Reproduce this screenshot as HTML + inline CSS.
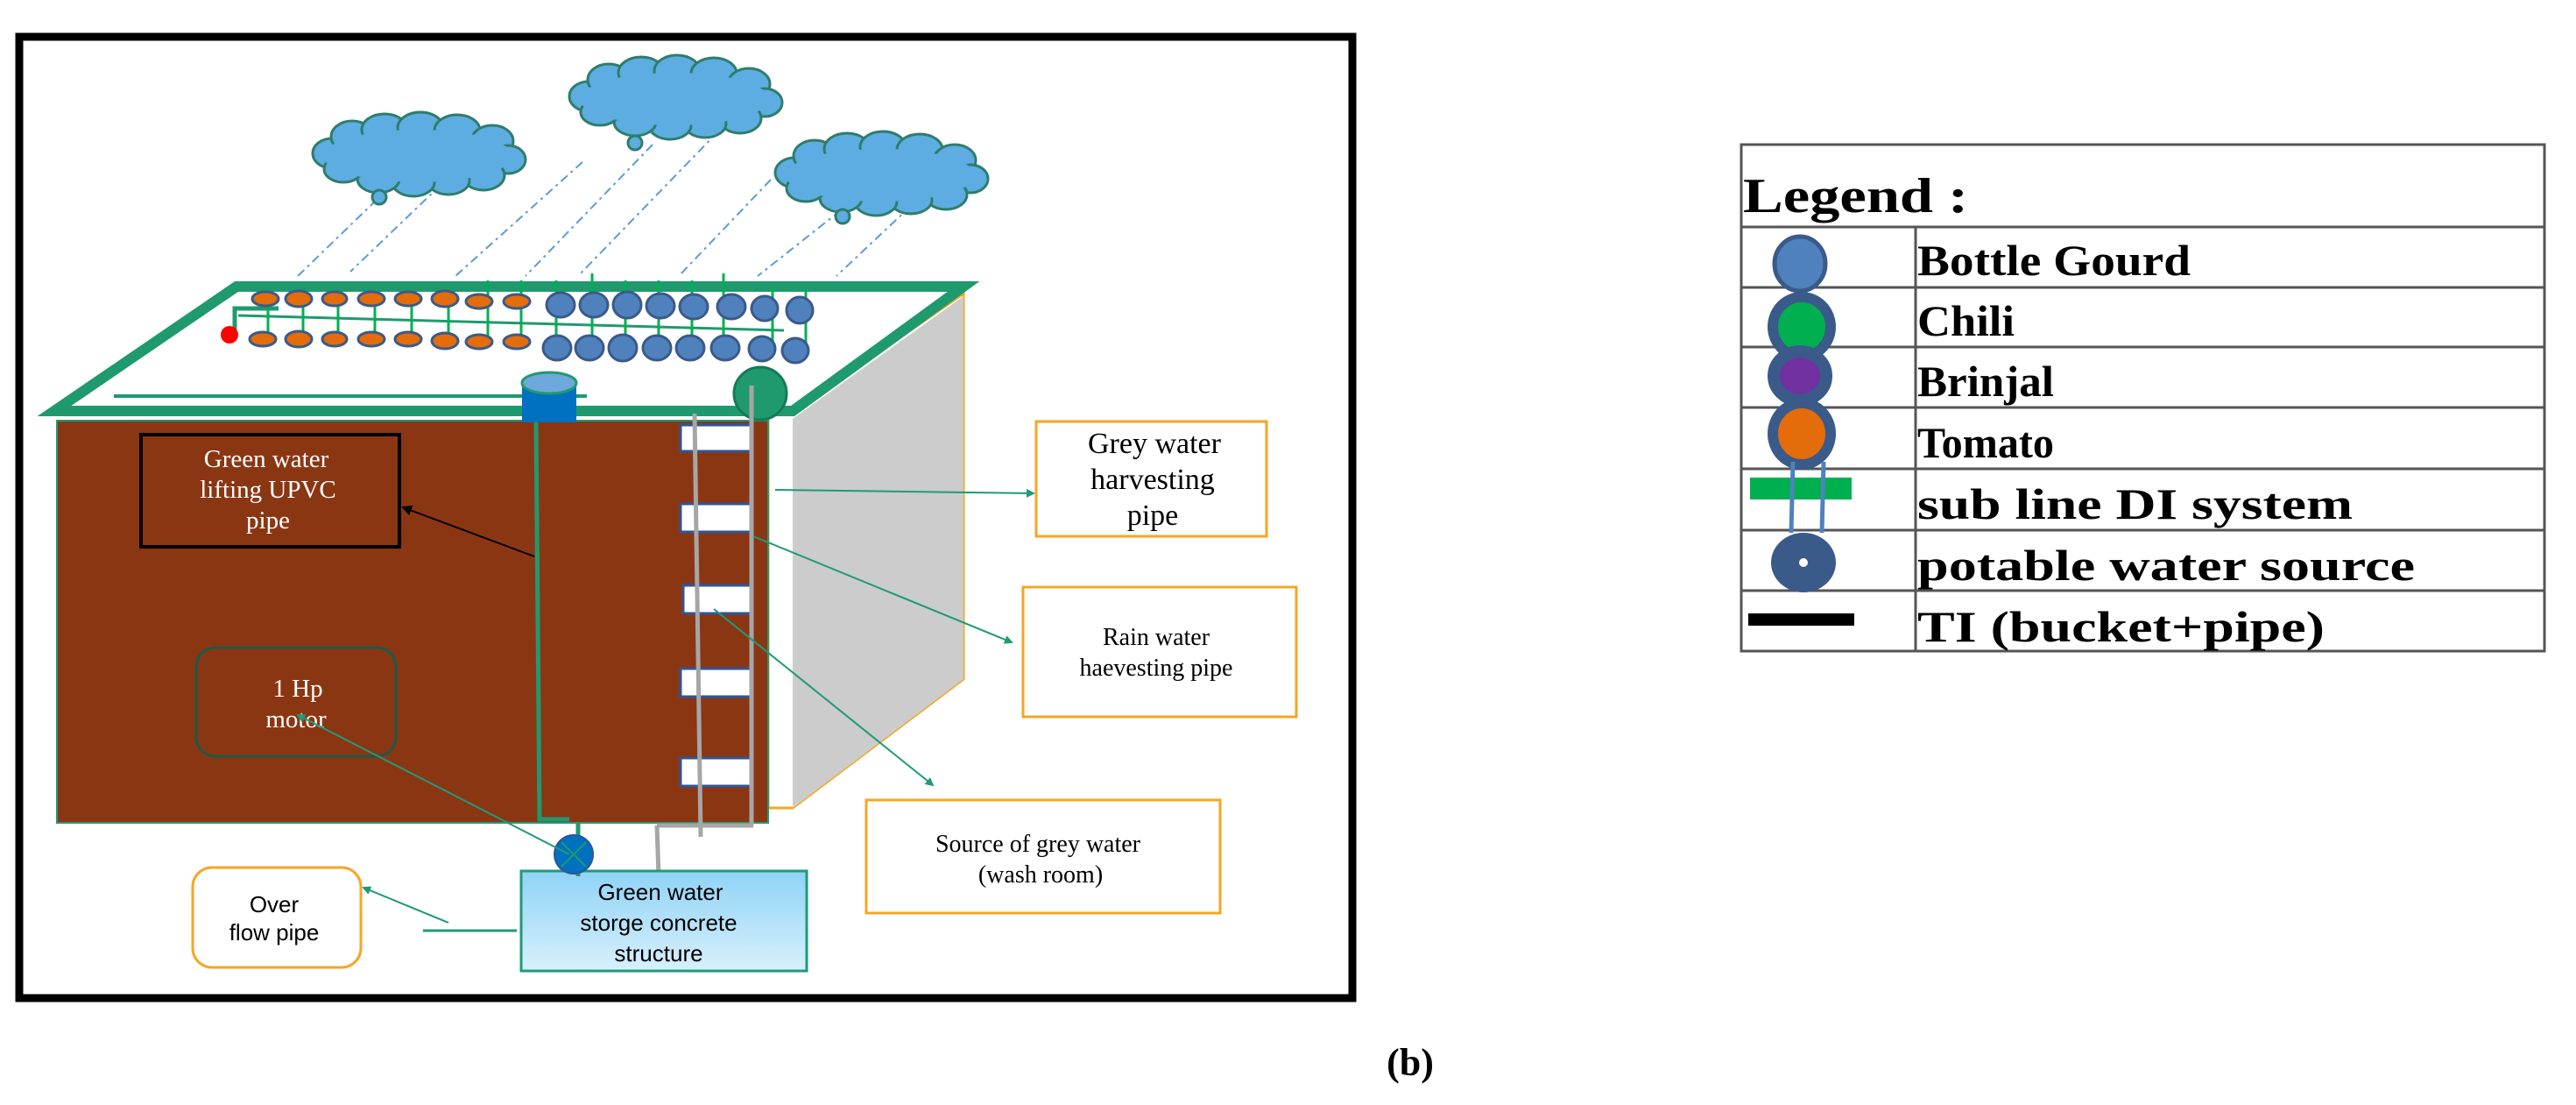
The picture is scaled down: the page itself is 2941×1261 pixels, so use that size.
<!DOCTYPE html>
<html><head><meta charset="utf-8"><style>
html,body{margin:0;padding:0;background:#fff;}
svg{display:block}
.s{font-family:"Liberation Serif",serif;}
.a{font-family:"Liberation Sans",sans-serif;}
</style></head><body>
<svg width="2941" height="1261" viewBox="0 0 2941 1261" xmlns="http://www.w3.org/2000/svg">
<defs>
<marker id="ar" markerWidth="10" markerHeight="10" refX="8" refY="5" orient="auto" markerUnits="userSpaceOnUse"><path d="M0,0 L10,5 L0,10 z" fill="#1f9a7a"/></marker>
<marker id="ab" markerWidth="12" markerHeight="12" refX="10" refY="6" orient="auto" markerUnits="userSpaceOnUse"><path d="M0,0 L12,6 L0,12 z" fill="#000"/></marker>
<linearGradient id="lb" x1="0" y1="0" x2="0" y2="1"><stop offset="0" stop-color="#8fd3f7"/><stop offset="1" stop-color="#d8f0fc"/></linearGradient>
<g id="cl">
<g fill="#5dade2" stroke="#2e7d6b" stroke-width="3">
<ellipse cx="-98" cy="-3" rx="22" ry="17"/><ellipse cx="-75" cy="-22" rx="24" ry="18"/><ellipse cx="-38" cy="-30" rx="26" ry="18"/><ellipse cx="3" cy="-32" rx="26" ry="18"/><ellipse cx="45" cy="-29" rx="26" ry="18"/><ellipse cx="85" cy="-17" rx="24" ry="18"/><ellipse cx="103" cy="4" rx="20" ry="16"/><ellipse cx="75" cy="22" rx="24" ry="17"/><ellipse cx="35" cy="28" rx="24" ry="16"/><ellipse cx="-5" cy="30" rx="24" ry="16"/><ellipse cx="-45" cy="26" rx="24" ry="16"/><ellipse cx="-85" cy="15" rx="22" ry="15"/>
</g>
<ellipse cx="0" cy="0" rx="108" ry="30" fill="#5dade2"/>
</g>
</defs>
<rect x="22" y="42" width="1522" height="1097" fill="#fff" stroke="#000" stroke-width="9"/>
<!-- rain -->
<g stroke="#5b9bd5" stroke-width="2" stroke-dasharray="10,5,3,5" fill="none">
<line x1="430" y1="228" x2="340" y2="315"/>
<line x1="520" y1="195" x2="400" y2="310"/>
<line x1="665" y1="185" x2="520" y2="315"/>
<line x1="745" y1="165" x2="600" y2="315"/>
<line x1="820" y1="150" x2="660" y2="315"/>
<line x1="880" y1="205" x2="775" y2="315"/>
<line x1="960" y1="240" x2="865" y2="315"/>
<line x1="1040" y1="235" x2="955" y2="315"/>
</g>
<!-- clouds -->
<use href="#cl" transform="translate(477,178)"/>
<use href="#cl" transform="translate(770,113)"/>
<use href="#cl" transform="translate(1005,200)"/>
<g fill="#5dade2" stroke="#2e7d6b" stroke-width="3">
<circle cx="433" cy="225" r="8"/><circle cx="725" cy="163" r="8"/><circle cx="962" cy="247" r="8"/>
</g>
<!-- side wall -->
<polygon points="877,475 905,470 1100,335 1100,775 905,922 877,922" fill="#fff" stroke="#f5a623" stroke-width="3"/>
<polygon points="905,478 1100,338 1100,775 905,922" fill="#cccccc"/>
<!-- front wall -->
<rect x="65" y="480" width="812" height="459" fill="#8b3613" stroke="#1f9a7a" stroke-width="2"/>
<!-- roof -->
<polygon points="270,327 1100,327 905,469 62,469" fill="#fff" stroke="#1f9a6e" stroke-width="12" stroke-linejoin="miter"/>
<line x1="130" y1="452" x2="670" y2="452" stroke="#1f9a6e" stroke-width="4"/>
<line x1="272" y1="360" x2="895" y2="377" stroke="#1f9a6e" stroke-width="3"/>
<path d="M268,382 V352 H318" stroke="#1f9a6e" stroke-width="5" fill="none"/>
<g stroke="#00b050" stroke-width="3">
<line x1="306" y1="340" x2="306" y2="387"/><line x1="346" y1="340" x2="346" y2="387"/><line x1="386" y1="340" x2="386" y2="387"/><line x1="428" y1="340" x2="428" y2="387"/><line x1="470" y1="340" x2="470" y2="387"/><line x1="512" y1="340" x2="512" y2="387"/>
<line x1="557" y1="320" x2="557" y2="390"/><line x1="595" y1="320" x2="595" y2="390"/><line x1="635" y1="320" x2="635" y2="398"/><line x1="676" y1="312" x2="676" y2="398"/><line x1="714" y1="320" x2="714" y2="398"/><line x1="752" y1="320" x2="752" y2="398"/><line x1="790" y1="320" x2="790" y2="398"/><line x1="826" y1="312" x2="826" y2="400"/><line x1="882" y1="330" x2="882" y2="405"/><line x1="920" y1="330" x2="920" y2="405"/>
</g>
<g fill="#e46c0a" stroke="#3a5a8a" stroke-width="3">
<ellipse cx="303" cy="341" rx="15" ry="8"/><ellipse cx="341" cy="341" rx="15" ry="9"/><ellipse cx="382" cy="341" rx="14" ry="8"/><ellipse cx="424" cy="341" rx="15" ry="8"/><ellipse cx="466" cy="341" rx="15" ry="8"/><ellipse cx="508" cy="341" rx="15" ry="9"/><ellipse cx="547" cy="344" rx="15" ry="8"/><ellipse cx="590" cy="344" rx="15" ry="8"/>
<ellipse cx="300" cy="387" rx="15" ry="8"/><ellipse cx="341" cy="387" rx="15" ry="9"/><ellipse cx="382" cy="387" rx="14" ry="8"/><ellipse cx="424" cy="387" rx="15" ry="8"/><ellipse cx="466" cy="387" rx="15" ry="8"/><ellipse cx="508" cy="389" rx="15" ry="9"/><ellipse cx="547" cy="390" rx="15" ry="8"/><ellipse cx="590" cy="390" rx="15" ry="8"/>
</g>
<g fill="#4f81bd" stroke="#3a5a8a" stroke-width="3">
<ellipse cx="640" cy="348" rx="16" ry="14"/><ellipse cx="678" cy="348" rx="16" ry="14"/><ellipse cx="716" cy="348" rx="16" ry="15"/><ellipse cx="754" cy="349" rx="16" ry="14"/><ellipse cx="792" cy="350" rx="16" ry="14"/><ellipse cx="835" cy="350" rx="16" ry="14"/><ellipse cx="873" cy="352" rx="15" ry="14"/><ellipse cx="913" cy="354" rx="15" ry="15"/>
<ellipse cx="636" cy="397" rx="16" ry="14"/><ellipse cx="673" cy="397" rx="16" ry="14"/><ellipse cx="711" cy="397" rx="16" ry="15"/><ellipse cx="750" cy="397" rx="16" ry="14"/><ellipse cx="788" cy="397" rx="16" ry="14"/><ellipse cx="828" cy="397" rx="16" ry="14"/><ellipse cx="870" cy="398" rx="15" ry="14"/><ellipse cx="908" cy="400" rx="15" ry="14"/>
</g>
<circle cx="262" cy="382" r="10" fill="#f00"/>
<!-- tank and circle -->
<rect x="596" y="437" width="62" height="45" fill="#0070c0"/>
<ellipse cx="627" cy="437" rx="31" ry="12" fill="#6fa8dc" stroke="#1f9a6e" stroke-width="3"/>
<circle cx="868" cy="449" r="30" fill="#1f9a6e" stroke="#157a55" stroke-width="3"/>
<!-- windows -->
<g fill="#fff" stroke="#2f5597" stroke-width="3">
<rect x="777" y="485" width="80" height="30"/><rect x="777" y="575" width="80" height="32"/><rect x="780" y="668" width="77" height="32"/><rect x="777" y="763" width="80" height="32"/><rect x="777" y="865" width="80" height="32"/>
</g>
<g stroke="#a6a6a6" stroke-width="5" fill="none">
<line x1="793" y1="472" x2="800" y2="955"/><line x1="858" y1="440" x2="858" y2="942"/><line x1="750" y1="942" x2="860" y2="942"/><line x1="750" y1="942" x2="752" y2="1000"/>
</g>
<!-- green pipe -->
<path d="M612,482 L616,935 H650 M660,938 V1000" stroke="#1f9a6e" stroke-width="5" fill="none"/>
<!-- boxes -->
<rect x="161" y="496" width="295" height="128" fill="none" stroke="#000" stroke-width="4"/>
<text class="s" fill="#fff" font-size="29" text-anchor="middle"><tspan x="304" y="533">Green water</tspan><tspan x="306" y="568">lifting UPVC</tspan><tspan x="306" y="603">pipe</tspan></text>
<rect x="224" y="739" width="228" height="124" rx="22" fill="none" stroke="#1c5a45" stroke-width="3"/>
<text class="s" fill="#fff" font-size="29" text-anchor="middle"><tspan x="340" y="795">1 Hp</tspan><tspan x="338" y="830">motor</tspan></text>
<rect x="1183" y="481" width="263" height="131" fill="#fff" stroke="#f5a623" stroke-width="3"/>
<text class="s" fill="#000" font-size="34" text-anchor="middle"><tspan x="1318" y="517">Grey water</tspan><tspan x="1316" y="558">harvesting</tspan><tspan x="1316" y="599">pipe</tspan></text>
<rect x="1168" y="670" width="312" height="148" fill="#fff" stroke="#f5a623" stroke-width="3"/>
<text class="s" fill="#000" font-size="28" text-anchor="middle"><tspan x="1320" y="736">Rain water</tspan><tspan x="1320" y="771">haevesting pipe</tspan></text>
<rect x="989" y="913" width="404" height="129" fill="#fff" stroke="#f5a623" stroke-width="3"/>
<text class="s" fill="#000" font-size="28" text-anchor="middle"><tspan x="1185" y="972">Source of grey water</tspan><tspan x="1188" y="1007">(wash room)</tspan></text>
<rect x="220" y="990" width="192" height="114" rx="22" fill="#fff" stroke="#f5a623" stroke-width="3"/>
<text class="a" fill="#000" font-size="26" text-anchor="middle"><tspan x="313" y="1041">Over</tspan><tspan x="313" y="1073">flow pipe</tspan></text>
<rect x="595" y="994" width="326" height="114" fill="url(#lb)" stroke="#1f9a7a" stroke-width="3"/>
<text class="a" fill="#000" font-size="26" text-anchor="middle"><tspan x="754" y="1027">Green water</tspan><tspan x="752" y="1062">storge concrete</tspan><tspan x="752" y="1097">structure</tspan></text>
<path d="M660,938 V1000" stroke="#1f9a6e" stroke-width="5"/>
<circle cx="655" cy="975" r="22" fill="#0070c0" stroke="#2f5597" stroke-width="2"/>
<path d="M641,961 L669,989 M669,961 L641,989" stroke="#1f9a6e" stroke-width="2"/>
<!-- arrows -->
<g stroke="#1f9a7a" stroke-width="2" fill="none">
<line x1="885" y1="559" x2="1180" y2="563" marker-end="url(#ar)"/>
<line x1="860" y1="612" x2="1155" y2="733" marker-end="url(#ar)"/>
<line x1="815" y1="695" x2="1065" y2="896" marker-end="url(#ar)"/>
<line x1="650" y1="975" x2="340" y2="816" marker-end="url(#ar)"/>
<line x1="512" y1="1053" x2="415" y2="1013" marker-end="url(#ar)"/>
<line x1="483" y1="1062" x2="590" y2="1062" stroke-width="3"/>
</g>
<line x1="610" y1="635" x2="460" y2="579" stroke="#000" stroke-width="2" marker-end="url(#ab)"/>
<!-- caption -->
<text class="s" x="1610" y="1227" font-size="44" font-weight="bold" text-anchor="middle">(b)</text>
<!-- legend -->
<g stroke="#555" stroke-width="3" fill="none">
<rect x="1988" y="165" width="917" height="578"/>
<line x1="1988" y1="259" x2="2905" y2="259"/><line x1="1988" y1="328" x2="2905" y2="328"/><line x1="1988" y1="396" x2="2905" y2="396"/><line x1="1988" y1="465" x2="2905" y2="465"/><line x1="1988" y1="535" x2="2905" y2="535"/><line x1="1988" y1="605" x2="2905" y2="605"/><line x1="1988" y1="674" x2="2905" y2="674"/>
<line x1="2187" y1="259" x2="2187" y2="743"/>
</g>
<g class="s" font-weight="bold" fill="#000">
<text x="1990" y="242" font-size="56" textLength="257" lengthAdjust="spacingAndGlyphs">Legend :</text>
<text x="2189" y="314" font-size="50" textLength="312" lengthAdjust="spacingAndGlyphs">Bottle Gourd</text>
<text x="2189" y="383" font-size="50" textLength="111" lengthAdjust="spacingAndGlyphs">Chili</text>
<text x="2189" y="452" font-size="50" textLength="156" lengthAdjust="spacingAndGlyphs">Brinjal</text>
<text x="2189" y="522" font-size="50" textLength="156" lengthAdjust="spacingAndGlyphs">Tomato</text>
<text x="2189" y="592" font-size="50" textLength="497" lengthAdjust="spacingAndGlyphs">sub line DI system</text>
<text x="2189" y="662" font-size="50" textLength="568" lengthAdjust="spacingAndGlyphs">potable water source</text>
<text x="2189" y="732" font-size="50" textLength="465" lengthAdjust="spacingAndGlyphs">TI (bucket+pipe)</text>
</g>
<ellipse cx="2055" cy="301" rx="29" ry="31" fill="#4f81bd" stroke="#3a5a8a" stroke-width="5"/>
<ellipse cx="2057" cy="373" rx="33" ry="34" fill="#00b050" stroke="#3a5a8a" stroke-width="12"/>
<ellipse cx="2055" cy="429" rx="30" ry="28" fill="#7030a0" stroke="#3a5a8a" stroke-width="14"/>
<ellipse cx="2057" cy="495" rx="33" ry="35" fill="#e46c0a" stroke="#3a5a8a" stroke-width="12"/>
<rect x="1998" y="545" width="116" height="25" fill="#00b050"/>
<line x1="2047" y1="527" x2="2045" y2="608" stroke="#4f81bd" stroke-width="5"/>
<line x1="2082" y1="527" x2="2080" y2="608" stroke="#4f81bd" stroke-width="5"/>
<ellipse cx="2059" cy="642" rx="37" ry="34" fill="#3a5a8a"/>
<circle cx="2059" cy="642" r="5" fill="#fff"/>
<rect x="1996" y="700" width="121" height="14" fill="#000"/>
</svg>
</body></html>
